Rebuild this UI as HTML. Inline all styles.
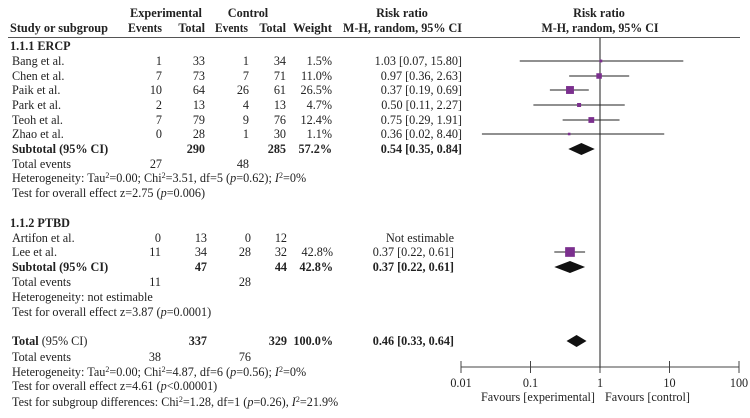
<!DOCTYPE html>
<html><head><meta charset="utf-8"><style>
body{margin:0;background:#fff}
svg{display:block;font-family:"Liberation Serif",serif;font-size:12.2px;fill:#222}
.b{font-weight:bold}
</style></head><body>
<svg id="c" width="750" height="418" viewBox="0 0 750 418">
<g>
<text x="166" y="17" text-anchor="middle" class="b" textLength="72" lengthAdjust="spacingAndGlyphs">Experimental</text>
<text x="248" y="17" text-anchor="middle" class="b">Control</text>
<text x="402" y="17" text-anchor="middle" class="b">Risk ratio</text>
<text x="599" y="17" text-anchor="middle" class="b">Risk ratio</text>
<text x="10" y="32" class="b" textLength="98" lengthAdjust="spacingAndGlyphs">Study or subgroup</text>
<text x="162" y="32" text-anchor="end" class="b" textLength="34" lengthAdjust="spacingAndGlyphs">Events</text>
<text x="205" y="32" text-anchor="end" class="b">Total</text>
<text x="248" y="32" text-anchor="end" class="b" textLength="33" lengthAdjust="spacingAndGlyphs">Events</text>
<text x="286" y="32" text-anchor="end" class="b">Total</text>
<text x="332" y="32" text-anchor="end" class="b" textLength="39" lengthAdjust="spacingAndGlyphs">Weight</text>
<text x="343" y="32" class="b" textLength="119" lengthAdjust="spacingAndGlyphs">M-H, random, 95% CI</text>
<text x="600" y="32" text-anchor="middle" class="b" textLength="117" lengthAdjust="spacingAndGlyphs">M-H, random, 95% CI</text>
<line x1="8" y1="37.5" x2="740" y2="37.5" stroke="#555" stroke-width="1"/>
</g>
<g id="tbl"></g>
<g id="plot"></g>
</svg>
<script>
const rows = [
 ["1.1.1 ERCP","","","","","","","h"],
 ["Bang et al.","1","33","1","34","1.5%","1.03 [0.07, 15.80]",""],
 ["Chen et al.","7","73","7","71","11.0%","0.97 [0.36, 2.63]",""],
 ["Paik et al.","10","64","26","61","26.5%","0.37 [0.19, 0.69]",""],
 ["Park et al.","2","13","4","13","4.7%","0.50 [0.11, 2.27]",""],
 ["Teoh et al.","7","79","9","76","12.4%","0.75 [0.29, 1.91]",""],
 ["Zhao et al.","0","28","1","30","1.1%","0.36 [0.02, 8.40]",""],
 ["Subtotal (95% CI)","","290","","285","57.2%","0.54 [0.35, 0.84]","b"],
 ["Total events","27","","48","","","",""],
 ["HET1","","","","","","",""],
 ["Test for overall effect z=2.75 (<i>p</i>=0.006)","","","","","","","r"],
 ["1.1.2 PTBD","","","","","","","h"],
 ["Artifon et al.","0","13","0","12","","Not estimable",""],
 ["Lee et al.","11","34","28","32","42.8%","0.37 [0.22, 0.61]",""],
 ["Subtotal (95% CI)","","47","","44","42.8%","0.37 [0.22, 0.61]","b"],
 ["Total events","11","","28","","","",""],
 ["Heterogeneity: not estimable","","","","","","","r"],
 ["Test for overall effect z=3.87 (<i>p</i>=0.0001)","","","","","","","r"],
 ["TOTAL","","337","","329","100.0%","0.46 [0.33, 0.64]","b"],
 ["Total events","38","","76","","","",""],
 ["HET2","","","","","","",""],
 ["Test for overall effect z=4.61 (<i>p</i>&lt;0.00001)","","","","","","","r"],
 ["SUBG","","","","","","",""]
];
const rowY = [50,65,80,94,109,124,138,153,168,182,197,227,242,256,271,286,301,316,345,361,376,390,406];
const est = [null,1.03,0.97,0.37,0.50,0.75,0.36,0.54,null,null,null,null,null,0.37,0.37,null,null,null,0.46];
const lo  = [null,0.07,0.36,0.19,0.11,0.29,0.02,0.35,null,null,null,null,null,0.22,0.22,null,null,null,0.33];
const hi  = [null,15.80,2.63,0.69,2.27,1.91,8.40,0.84,null,null,null,null,null,0.61,0.61,null,null,null,0.64];
const weights = [0,1.5,11.0,26.5,4.7,12.4,1.1,0,0,0,0,0,0,42.8,0,0,0,0,0];
const tickVals = [0.01,0.1,1,10,100];
const tickLabels = ["0.01","0.1","1","10","100"];
const xs = v => 600 + Math.log10(v)*69.5;
const NS="http://www.w3.org/2000/svg";
const tbl=document.getElementById('tbl'), plot=document.getElementById('plot');
const colTop=[162,205,249,286,332,462];
const colBot=[161,207,251,287,333,454];
const sup='<tspan dy="-4" font-size="8">2</tspan><tspan dy="4">';
function het(a,b,c,d){return 'Heterogeneity: Tau'+sup+'=0.00; Chi'+sup+'='+a+', df='+b+' (<tspan font-style="italic">p</tspan>='+c+'); <tspan font-style="italic">I</tspan>'+sup+'='+d+'</tspan></tspan></tspan>';}
rows.forEach((r,i)=>{
 const y=rowY[i];
 const colX = i<11?colTop:colBot;
 const t=document.createElementNS(NS,'text');
 
 
 t.setAttribute('x', r[7]==='h'?10:12); t.setAttribute('y',y);
 if(r[7]==='h'||(r[7]==='b'&&r[0]!=='TOTAL')) t.setAttribute('class','b');
 let lbl=r[0];
 if(lbl==='HET1') lbl=het('3.51','5','0.62','0%');
 else if(lbl==='HET2') lbl=het('4.87','6','0.56','0%');
 else if(lbl==='TOTAL') lbl='<tspan font-weight="bold">Total</tspan> (95% CI)';
 else if(lbl==='SUBG') lbl='Test for subgroup differences: Chi'+sup+'=1.28, df=1 (<tspan font-style="italic">p</tspan>=0.26), <tspan font-style="italic">I</tspan>'+sup+'=21.9%</tspan></tspan>';
 else lbl=lbl.replace(/<i>/g,'<tspan font-style="italic">').replace(/<\/i>/g,'</tspan>');
 t.innerHTML=lbl; tbl.appendChild(t);
 for(let k=1;k<=6;k++){ if(!r[k]) continue;
  const c=document.createElementNS(NS,'text');
  
  
  c.setAttribute('x',colX[k-1]); c.setAttribute('y',y); c.setAttribute('text-anchor','end');
  if(r[7]==='b') c.setAttribute('class','b');
  c.textContent=r[k]; tbl.appendChild(c);
 }
});
function el(tag,attrs,name){const e=document.createElementNS(NS,tag);for(const k in attrs)e.setAttribute(k,attrs[k]);plot.appendChild(e);return e;}
el('line',{x1:xs(1),y1:38,x2:xs(1),y2:368,stroke:'#444','stroke-width':1.2},'null-line');
el('line',{x1:xs(0.01),y1:367,x2:xs(100),y2:367,stroke:'#444','stroke-width':1},'x-axis');
tickVals.forEach((v,i)=>{
 el('line',{x1:xs(v),y1:361,x2:xs(v),y2:373,stroke:'#444'},'x-tick');
 const t=el('text',{x:xs(v),y:387,'text-anchor':'middle'},'x-tick-label'); t.textContent=tickLabels[i];
});
el('text',{x:xs(1)-5,y:401,'text-anchor':'end'},'favours-experimental').textContent='Favours [experimental]';
el('text',{x:xs(1)+5,y:401},'favours-control').textContent='Favours [control]';
est.forEach((v,i)=>{
 if(v==null) return;
 const y=rowY[i]-4;
 if(rows[i][7]==='b'){
  el('polygon',{points:`${xs(lo[i])},${y} ${xs(v)},${y-6} ${xs(hi[i])},${y} ${xs(v)},${y+6}`,fill:'#111'},'summary-diamond');
 } else {
  el('line',{x1:xs(lo[i]),y1:y,x2:xs(hi[i]),y2:y,stroke:'#222','stroke-width':1},'ci-line');
  const s=1.2+Math.sqrt(weights[i])*1.3;
  el('rect',{x:xs(v)-s/2,y:y-s/2,width:s,height:s,fill:'#7b2f8e'},'study-square');
 }
});
</script>
</body></html>
